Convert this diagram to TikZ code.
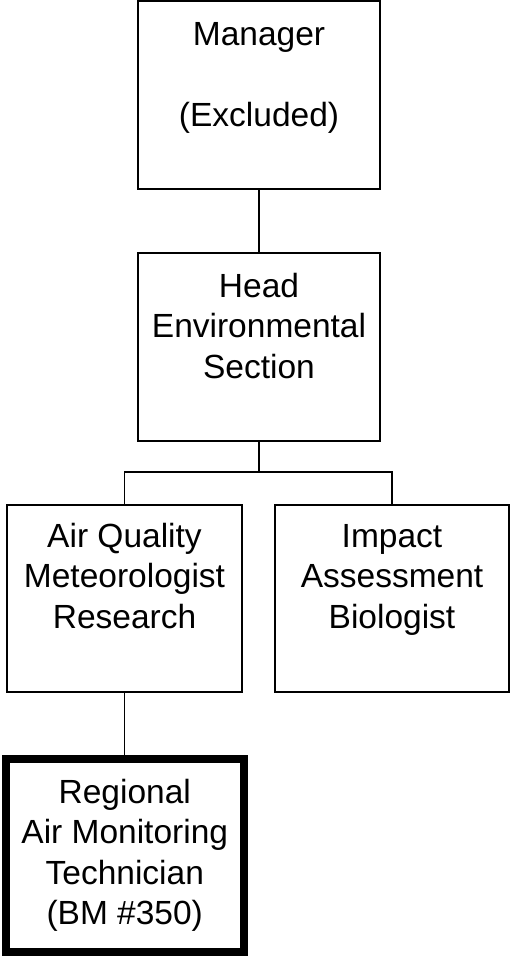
\documentclass[tikz,border=0pt]{standalone}
\usepackage{fontspec}
\setmainfont{Liberation Sans}
\newcommand\firststrut{\rule{0pt}{25pt}}
\begin{document}
\begin{tikzpicture}[x=1pt,y=-1pt,
  orgbox/.style={draw=black, line width=1.7pt, rectangle, inner sep=0pt},
  keybox/.style={orgbox, line width=8pt},
  lbl/.style={anchor=north, inner sep=0pt, align=center, font=\fontsize{33.5}{40.5}\selectfont},
  link/.style={draw=black, line width=1.7pt}]
\useasboundingbox (0,0) rectangle (511,957);
\node[orgbox, minimum width=242pt, minimum height=188pt] (mgr) at (259,95) {};
\node[orgbox, minimum width=242pt, minimum height=188pt] (head) at (259,347) {};
\node[orgbox, minimum width=235pt, minimum height=187pt] (aq) at (124.5,598.5) {};
\node[orgbox, minimum width=234pt, minimum height=187pt] (imp) at (392,598.5) {};
\node[keybox, minimum width=238.5pt, minimum height=193pt] (reg) at (124.75,855.5) {};
\node[lbl] (mgrT) at (259,20) {\firststrut Manager\\ \\(Excluded)};
\node[lbl] (headT) at (259,272) {\firststrut Head\\Environmental\\Section};
\node[lbl] (aqT) at (124.5,522) {\firststrut Air Quality\\Meteorologist\\Research};
\node[lbl] (impT) at (392,522) {\firststrut Impact\\Assessment\\Biologist};
\node[lbl] (regT) at (124.75,778) {\firststrut Regional\\Air Monitoring\\Technician\\(BM \#350)};
\coordinate (bus) at (259,472);
\draw[link] (mgr.south) -- (head.north);
\draw[link] (head.south) -- (bus);
\draw[link] (aq.north) -- (aq.north |- bus) -- (imp.north |- bus) -- (imp.north);
\draw[link] (aq.south) -- (aq.south |- reg.north);
\end{tikzpicture}
\end{document}
